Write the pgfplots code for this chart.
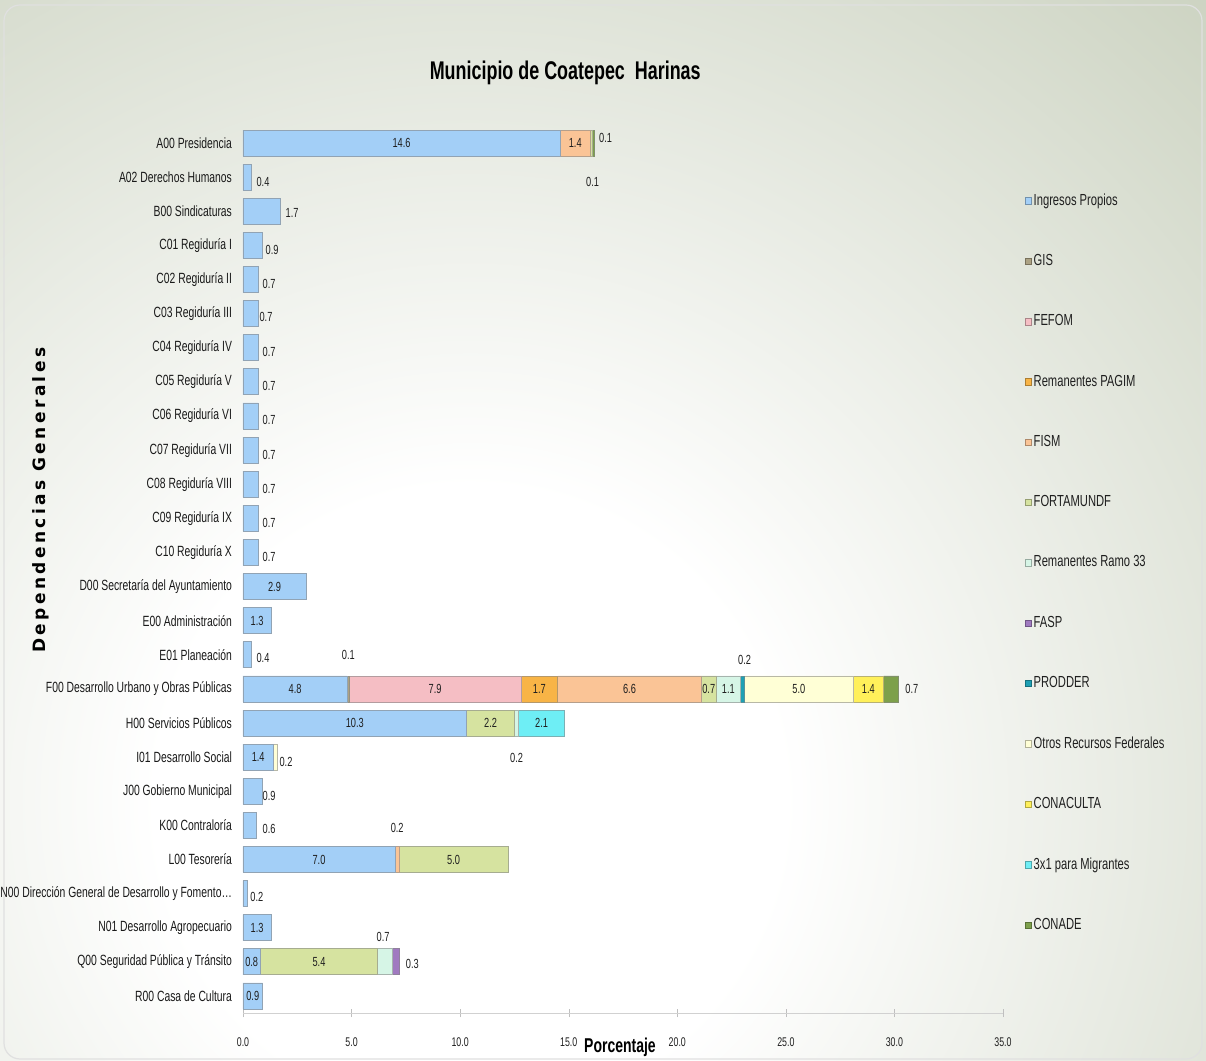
\documentclass[border=0pt]{standalone}
\usepackage{pgfplots}
\pgfplotsset{compat=1.18}
\usepackage{pgfplotstable}
\usepackage{fontspec}
\setmainfont{Liberation Sans}[FakeStretch=0.7]
\newfontfamily\widebold{DejaVu Sans}[LetterSpace=20]

% series colours
\definecolor{cIP}{RGB}{163,207,247}
\definecolor{cGIS}{RGB}{172,162,132}
\definecolor{cFEFOM}{RGB}{245,190,196}
\definecolor{cPAGIM}{RGB}{248,180,70}
\definecolor{cFISM}{RGB}{250,196,150}
\definecolor{cFORT}{RGB}{214,227,160}
\definecolor{cRR33}{RGB}{214,245,230}
\definecolor{cFASP}{RGB}{160,122,192}
\definecolor{cPROD}{RGB}{30,160,180}
\definecolor{cOTROS}{RGB}{255,255,214}
\definecolor{cCONAC}{RGB}{255,240,90}
\definecolor{cMIG}{RGB}{110,238,245}
\definecolor{cCONADE}{RGB}{125,160,75}
\definecolor{bgc}{RGB}{203,210,192}

\pgfdeclareradialshading{bgrad}{\pgfpointorigin}{color(0bp)=(white); color(7bp)=(white); color(25bp)=(bgc); color(50bp)=(bgc)}

% share of budget by department and funding source (%)
\pgfplotstableread{
row IP GIS FEFOM PAGIM FISM FORT RR33 FASP PROD OTROS CONAC MIG CONADE
1 14.6 0 0 0 1.4 0.1 0 0 0 0 0 0 0.1
2 0.4 0 0 0 0 0 0 0 0 0 0 0 0
3 1.7 0 0 0 0 0 0 0 0 0 0 0 0
4 0.9 0 0 0 0 0 0 0 0 0 0 0 0
5 0.7 0 0 0 0 0 0 0 0 0 0 0 0
6 0.7 0 0 0 0 0 0 0 0 0 0 0 0
7 0.7 0 0 0 0 0 0 0 0 0 0 0 0
8 0.7 0 0 0 0 0 0 0 0 0 0 0 0
9 0.7 0 0 0 0 0 0 0 0 0 0 0 0
10 0.7 0 0 0 0 0 0 0 0 0 0 0 0
11 0.7 0 0 0 0 0 0 0 0 0 0 0 0
12 0.7 0 0 0 0 0 0 0 0 0 0 0 0
13 0.7 0 0 0 0 0 0 0 0 0 0 0 0
14 2.9 0 0 0 0 0 0 0 0 0 0 0 0
15 1.3 0 0 0 0 0 0 0 0 0 0 0 0
16 0.4 0 0 0 0 0 0 0 0 0 0 0 0
17 4.8 0.1 7.9 1.7 6.6 0.7 1.1 0 0.2 5.0 1.4 0 0.7
18 10.3 0 0 0 0 2.2 0.2 0 0 0 0 2.1 0
19 1.4 0 0 0 0 0 0 0 0 0.2 0 0 0
20 0.9 0 0 0 0 0 0 0 0 0 0 0 0
21 0.6 0 0 0 0 0 0 0 0 0 0 0 0
22 7.0 0 0 0 0.2 5.0 0 0 0 0 0 0 0
23 0.2 0 0 0 0 0 0 0 0 0 0 0 0
24 1.3 0 0 0 0 0 0 0 0 0 0 0 0
25 0.8 0 0 0 0 5.4 0.7 0.3 0 0 0 0 0
26 0.9 0 0 0 0 0 0 0 0 0 0 0 0
}\datatable

\newcommand\lblfont{\fontsize{6.6}{7}\selectfont}

\pgfplotsset{
  seg/.style={fill=#1, draw=#1!60!black!70, line width=0.4pt,
    legend image code/.code={\draw[fill=#1, draw=#1!70!black, line width=0.3pt] (1pt,-1.6pt) rectangle (4.2pt,1.6pt);}},
  frame/.style={at={(121.5pt,24pt)}, anchor=south west, scale only axis,
    width=380pt, height=443.5pt, xmin=0, xmax=35, ymin=0.5, ymax=26.5,
    y dir=reverse},
}

\begin{document}
\begin{tikzpicture}
\path[use as bounding box] (0pt,0pt) rectangle (603pt,530.5pt);
% backdrop
\begin{scope}
  \clip (0pt,0pt) rectangle (603pt,530.5pt);
  \shade[shading=bgrad] (235pt,130pt) circle (560pt);
\end{scope}
\draw[rounded corners=8pt, draw=black!12, line width=0.6pt] (2pt,1pt) rectangle (601pt,528pt);

\begin{axis}[frame,
  xbar stacked, bar width=13pt,
  axis x line*=bottom, axis y line*=left,
  y axis line style={draw=none}, x axis line style={draw=black!18},
  ytick={1,...,26}, ytick style={draw=none},
  xtick={0,5,...,35}, xtick style={draw=black!25}, tick align=center, major tick length=4pt,
  yticklabels={A00 Presidencia, A02 Derechos Humanos, B00 Sindicaturas, C01 Regiduría I, C02 Regiduría II, C03 Regiduría III, C04 Regiduría IV, C05 Regiduría V, C06 Regiduría VI, C07 Regiduría VII, C08 Regiduría VIII, C09 Regiduría IX, C10 Regiduría X, D00 Secretaría del Ayuntamiento, E00 Administración, E01 Planeación, F00 Desarrollo Urbano y Obras Públicas, H00 Servicios Públicos, I01 Desarrollo Social, J00 Gobierno Municipal, K00 Contraloría, L00 Tesorería, N00 Dirección General de Desarrollo y Fomento…, N01 Desarrollo Agropecuario, Q00 Seguridad Pública y Tránsito, R00 Casa de Cultura},
  yticklabel style={font=\fontsize{7.4}{8}\selectfont, text=black!90, xshift=0pt},
  xticklabel style={font=\fontsize{6.3}{7}\selectfont, text=black!88, yshift=-7pt,
    /pgf/number format/fixed, /pgf/number format/fixed zerofill,
    /pgf/number format/precision=1, /pgf/number format/assume math mode=true},
  xlabel={Porcentaje},
  xlabel style={at={(axis description cs:0.496,0)}, anchor=center, yshift=-17pt,
    font=\bfseries\fontsize{10}{11}\selectfont},
  ylabel={Dependencias Generales},
  ylabel style={at={(axis description cs:-0.266,0.578)}, anchor=center,
    font=\widebold\bfseries\fontsize{8.5}{9}\selectfont},
  title={Municipio de Coatepec\ \ Harinas},
  title style={at={(axis description cs:0.424,1.046)}, anchor=center,
    font=\bfseries\fontsize{12.8}{13}\selectfont},
  legend style={at={(axis description cs:1.028,0.9265)}, anchor=north west,
    draw=none, fill=none, inner sep=0pt, row sep=21.05pt,
    font=\fontsize{8}{9}\selectfont, text=black!88,
    nodes={inner sep=1pt}, cells={anchor=west}},
]
\addplot[seg=cIP] table[x=IP, y=row] {\datatable}; \addlegendentry{Ingresos Propios}
\addplot[seg=cGIS] table[x=GIS, y=row] {\datatable}; \addlegendentry{GIS}
\addplot[seg=cFEFOM] table[x=FEFOM, y=row] {\datatable}; \addlegendentry{FEFOM}
\addplot[seg=cPAGIM] table[x=PAGIM, y=row] {\datatable}; \addlegendentry{Remanentes PAGIM}
\addplot[seg=cFISM] table[x=FISM, y=row] {\datatable}; \addlegendentry{FISM}
\addplot[seg=cFORT] table[x=FORT, y=row] {\datatable}; \addlegendentry{FORTAMUNDF}
\addplot[seg=cRR33] table[x=RR33, y=row] {\datatable}; \addlegendentry{Remanentes Ramo 33}
\addplot[seg=cFASP] table[x=FASP, y=row] {\datatable}; \addlegendentry{FASP}
\addplot[seg=cPROD] table[x=PROD, y=row] {\datatable}; \addlegendentry{PRODDER}
\addplot[seg=cOTROS] table[x=OTROS, y=row] {\datatable}; \addlegendentry{Otros Recursos Federales}
\addplot[seg=cCONAC] table[x=CONAC, y=row] {\datatable}; \addlegendentry{CONACULTA}
\addplot[seg=cMIG] table[x=MIG, y=row] {\datatable}; \addlegendentry{3x1 para Migrantes}
\addplot[seg=cCONADE] table[x=CONADE, y=row] {\datatable}; \addlegendentry{CONADE}
\end{axis}

% value labels
\begin{axis}[frame, hide axis, clip=false]
\addplot[draw=none, mark=none, nodes near coords, nodes near coords align={center},
  point meta=explicit symbolic,
  every node near coord/.append style={anchor=center, font=\lblfont, text=black!88}]
coordinates {
 (7.3,1) [14.6] (15.3,1) [1.4] (16.7,0.85) [0.1] (16.1,2.15) [0.1]
 (0.92,2.14) [0.4] (2.26,3.05) [1.7] (1.34,4.14) [0.9]
 (1.2,5.13) [0.7] (1.06,6.1) [0.7] (1.2,7.13) [0.7] (1.2,8.13) [0.7]
 (1.2,9.13) [0.7] (1.2,10.13) [0.7] (1.2,11.13) [0.7] (1.2,12.13) [0.7] (1.2,13.13) [0.7]
 (1.45,14) [2.9] (0.65,15) [1.3] (0.92,16.1) [0.4]
 (4.85,16.0) [0.1] (23.1,16.16) [0.2]
 (2.4,17) [4.8] (8.85,17) [7.9] (13.65,17) [1.7] (17.8,17) [6.6] (21.45,17) [0.7]
 (22.35,17) [1.1] (25.6,17) [5.0] (28.8,17) [1.4] (30.8,17) [0.7]
 (5.15,18) [10.3] (11.4,18) [2.2] (13.75,18) [2.1] (12.6,19.03) [0.2]
 (0.7,19) [1.4] (1.98,19.15) [0.2] (1.2,20.15) [0.9] (1.2,21.1) [0.6]
 (7.1,21.09) [0.2] (3.5,22) [7.0] (9.7,22) [5.0]
 (0.64,23.1) [0.2] (0.65,24) [1.3]
 (0.4,25) [0.8] (3.5,25) [5.4] (6.45,24.28) [0.7] (7.8,25.05) [0.3]
 (0.45,26) [0.9]
};
\end{axis}
\end{tikzpicture}
\end{document}
